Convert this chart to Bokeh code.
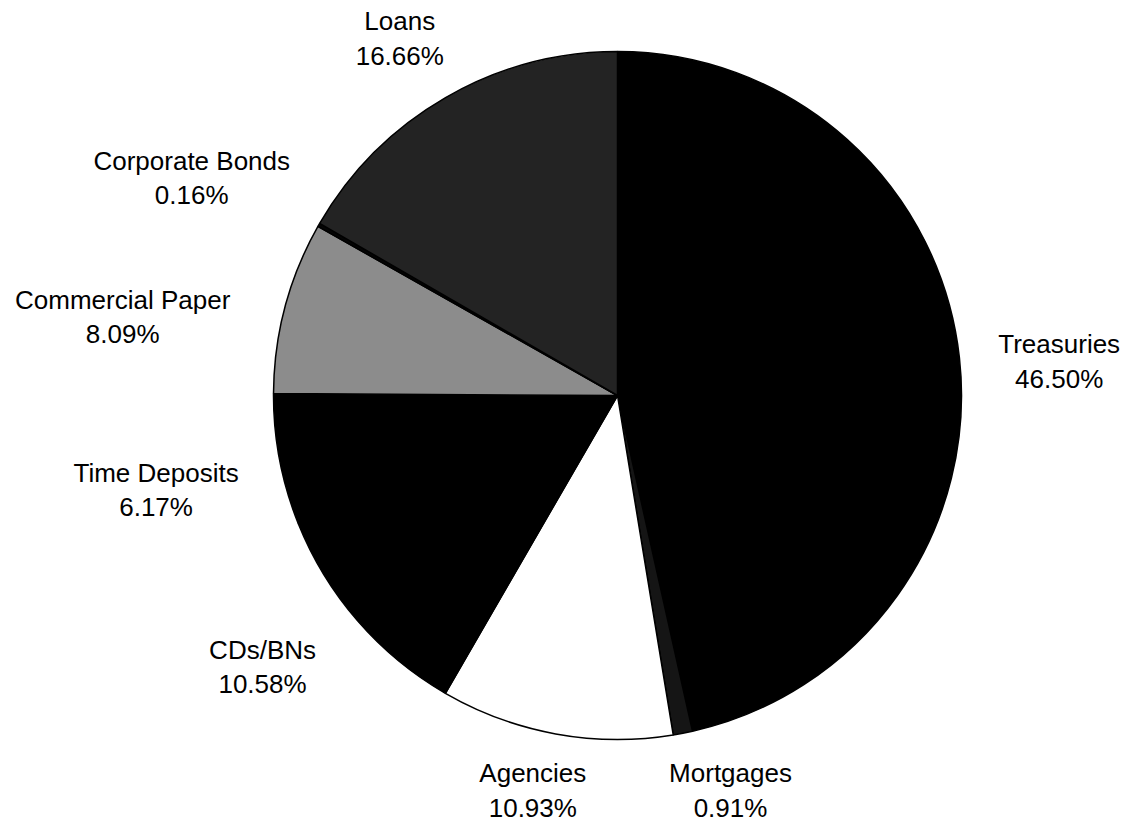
import math
from bokeh.plotting import figure
from bokeh.models import Range1d, ColumnDataSource
from bokeh.embed import file_html
from bokeh.resources import INLINE
from bokeh.core.properties import value

# ---- data ----
categories = ["Treasuries", "Mortgages", "Agencies", "CDs/BNs",
              "Time Deposits", "Commercial Paper", "Corporate Bonds", "Loans"]
shares = [46.50, 0.91, 10.93, 10.58, 6.17, 8.09, 0.16, 16.66]

# ---- styles ----
slice_colors = ["#000000", "#151515", "#ffffff", "#000000",
                "#000000", "#8c8c8c", "#050505", "#232323"]

# ---- layout ----
W, H = 1128, 823
CX, CY, R = 617, H - 395, 344
label_dist = [443, 411, 404, 447, 471, 501, 478, 418]
label_nudge = [1.9, -5.0, 1.75, 3.5, -0.8, -5.9, -2.7, -1.4]

total = sum(shares)
starts, ends, lx, ly, texts = [], [], [], [], []
cum = 0.0
for i, (name, s) in enumerate(zip(categories, shares)):
    t1 = cum / total * 360.0
    cum += s
    t2 = cum / total * 360.0
    starts.append(math.radians(90 - t1))
    ends.append(math.radians(90 - t2))
    tm = math.radians((t1 + t2) / 2 + label_nudge[i])
    lx.append(CX + label_dist[i] * math.sin(tm))
    ly.append(CY + label_dist[i] * math.cos(tm))
    texts.append(f"{name}\n{s:.2f}%")

src = ColumnDataSource(dict(start=starts, end=ends, color=slice_colors,
                            lx=lx, ly=ly, text=texts))

p = figure(width=W, height=H, x_range=Range1d(0, W), y_range=Range1d(0, H),
           output_backend="svg", toolbar_location=None, min_border=0)
p.axis.visible = False
p.grid.visible = False
p.outline_line_color = None
p.background_fill_color = "white"
p.border_fill_color = "white"

p.wedge(x=CX, y=CY, radius=R, start_angle="start", end_angle="end",
        direction="clock", fill_color="color", line_color="black",
        line_width=1.5, source=src)

p.text(x="lx", y="ly", text="text", source=src,
       text_font=value("Liberation Sans"), text_font_size="26px",
       text_align="center", text_baseline="middle", text_line_height=1.15,
       text_color="black")

open("out.html", "w").write(file_html(p, INLINE))
